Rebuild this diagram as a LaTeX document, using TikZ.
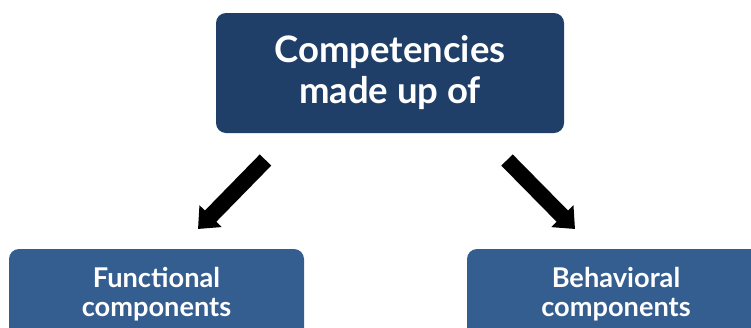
\documentclass[tikz,border=0pt]{standalone}
\usepackage{fontspec}
\setmainfont{Lato}
\usetikzlibrary{arrows.meta}
\definecolor{topblue}{HTML}{1F3F68}
\definecolor{subblue}{HTML}{355E90}
\tikzset{
  topbox/.style={fill=topblue, rounded corners=10pt, text=white, align=center,
    minimum width=348pt, minimum height=120pt, inner sep=0pt,
    font=\fontsize{36.5}{41}\selectfont\bfseries},
  subbox/.style={fill=subblue, rounded corners=10pt, text=white, align=center,
    minimum width=296pt, minimum height=90pt, inner sep=0pt,
    font=\fontsize{27.2}{28.5}\selectfont\bfseries},
  bigarrow/.style={line width=16pt, -{Triangle[width=30pt,length=18pt]}}
}
\begin{document}
\begin{tikzpicture}[x=1pt,y=-1pt]
\useasboundingbox (0,0) rectangle (751,327);
\clip (0,0) rectangle (751,327);
\node[topbox] (top) at (390,73) {Competencies\\made up of};
\node[subbox, minimum width=295pt] (func) at (156.5,294) {Functional\\components};
\node[subbox, minimum width=298pt] (beh) at (616,294) {Behavioral\\components};
\coordinate (l1) at (265.5,160);
\coordinate (l2) at (198,229);
\coordinate (r1) at (507,160);
\coordinate (r2) at (575,229);
\draw[bigarrow] (l1) -- (l2);
\draw[bigarrow] (r1) -- (r2);
\end{tikzpicture}
\end{document}
